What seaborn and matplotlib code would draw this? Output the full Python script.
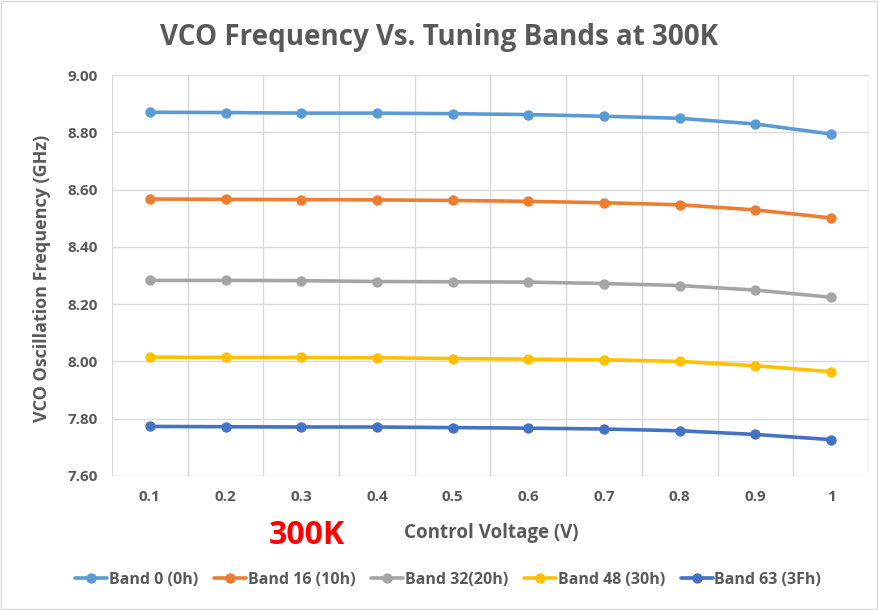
# ---------------------------------------------------
# VCO frequency vs. tuning bands at 300K
# ---------------------------------------------------

import matplotlib.pyplot as plt
import seaborn as sns
import pandas as pd
from matplotlib.patches import Rectangle

# data
voltages = ["0.1", "0.2", "0.3", "0.4", "0.5", "0.6", "0.7", "0.8", "0.9", "1"]
band_names = ["Band 0 (0h)", "Band 16 (10h)", "Band 32(20h)", "Band 48 (30h)", "Band 63 (3Fh)"]
band_0 = [8.870, 8.869, 8.867, 8.867, 8.865, 8.862, 8.856, 8.849, 8.829, 8.794]
band_16 = [8.567, 8.566, 8.565, 8.564, 8.562, 8.559, 8.554, 8.547, 8.529, 8.501]
band_32 = [8.283, 8.283, 8.282, 8.279, 8.278, 8.277, 8.272, 8.265, 8.249, 8.224]
band_48 = [8.015, 8.014, 8.014, 8.013, 8.010, 8.008, 8.006, 8.000, 7.985, 7.964]
band_63 = [7.773, 7.772, 7.771, 7.771, 7.769, 7.767, 7.764, 7.758, 7.745, 7.727]
y_ticks = [7.60, 7.80, 8.00, 8.20, 8.40, 8.60, 8.80, 9.00]

colors = ["#5B9BD5", "#ED7D31", "#A5A5A5", "#FFC000", "#4472C4"]
text_color = "#595959"
grid_color = "#D9D9D9"

rows = []
for name, vals in zip(band_names, [band_0, band_16, band_32, band_48, band_63]):
    for v, f in zip(voltages, vals):
        rows.append((v, f, name))
df = pd.DataFrame(rows, columns=["voltage", "freq", "band"])

sns.set_theme(style="white")
plt.rcParams["font.family"] = ["Open Sans", "DejaVu Sans"]

fig, ax = plt.subplots(figsize=(8.79, 6.10), dpi=100)
fig.subplots_adjust(left=0.1274, right=0.9886, top=0.877, bottom=0.2197)

sns.pointplot(
    data=df,
    x="voltage",
    y="freq",
    hue="band",
    order=voltages,
    hue_order=band_names,
    palette=colors,
    markers="o",
    errorbar=None,
    markersize=5.5,
    linewidth=2.6,
    ax=ax,
)

ax.set_xlim(-0.5, len(voltages) - 0.5)
ax.set_ylim(y_ticks[0], y_ticks[-1])
ax.set_yticks(y_ticks)
ax.set_yticklabels([f"{t:.2f}" for t in y_ticks])
ax.set_xticks(range(len(voltages)))
ax.set_xticklabels(voltages)
ax.set_xticks([i - 0.5 for i in range(len(voltages) + 1)], minor=True)

# Excel-like gridlines: vertical ones between categories
ax.grid(False)
ax.grid(which="minor", axis="x", color=grid_color, linewidth=1)
ax.grid(which="major", axis="y", color=grid_color, linewidth=1)
ax.set_axisbelow(True)
for s in ax.spines.values():
    s.set_visible(False)

ax.tick_params(which="both", length=0)
ax.tick_params(axis="both", labelsize=11, labelcolor=text_color, pad=10)
for lbl in ax.get_xticklabels() + ax.get_yticklabels():
    lbl.set_fontweight("bold")

ax.set_xlabel("")
ax.set_ylabel("")

# texts
fig.text(0.5, 1 - 38 / 610, "VCO Frequency Vs. Tuning Bands at 300K",
         ha="center", va="center", fontsize=20, fontweight="bold", color=text_color)
fig.text(42 / 879, 1 - 278 / 610, "VCO Oscillation Frequency (GHz)",
         ha="center", va="center", rotation=90, fontsize=13, fontweight="bold", color=text_color)
fig.text(491 / 879, 1 - 533 / 610, "Control Voltage (V)",
         ha="center", va="center", fontsize=13.5, fontweight="bold", color=text_color)
fig.text(307 / 879, 1 - 535 / 610, "300K",
         ha="center", va="center", fontsize=23, fontweight="bold", color="#FF0000")

# legend at the bottom
handles, labels = ax.get_legend_handles_labels()
ax.legend_.remove()
leg = fig.legend(handles, labels, loc="center", bbox_to_anchor=(0.51, 1 - 580 / 610),
                 ncol=5, frameon=False, handlelength=2.0, handletextpad=0.1,
                 columnspacing=1.0, fontsize=11.5)
for t in leg.get_texts():
    t.set_color(text_color)
    t.set_fontweight("bold")

# chart border
fig.patches.append(Rectangle((0.001, 0.001), 0.997, 0.997, transform=fig.transFigure,
                             fill=False, edgecolor=grid_color, linewidth=1))

plt.savefig("out.png", dpi=100)
